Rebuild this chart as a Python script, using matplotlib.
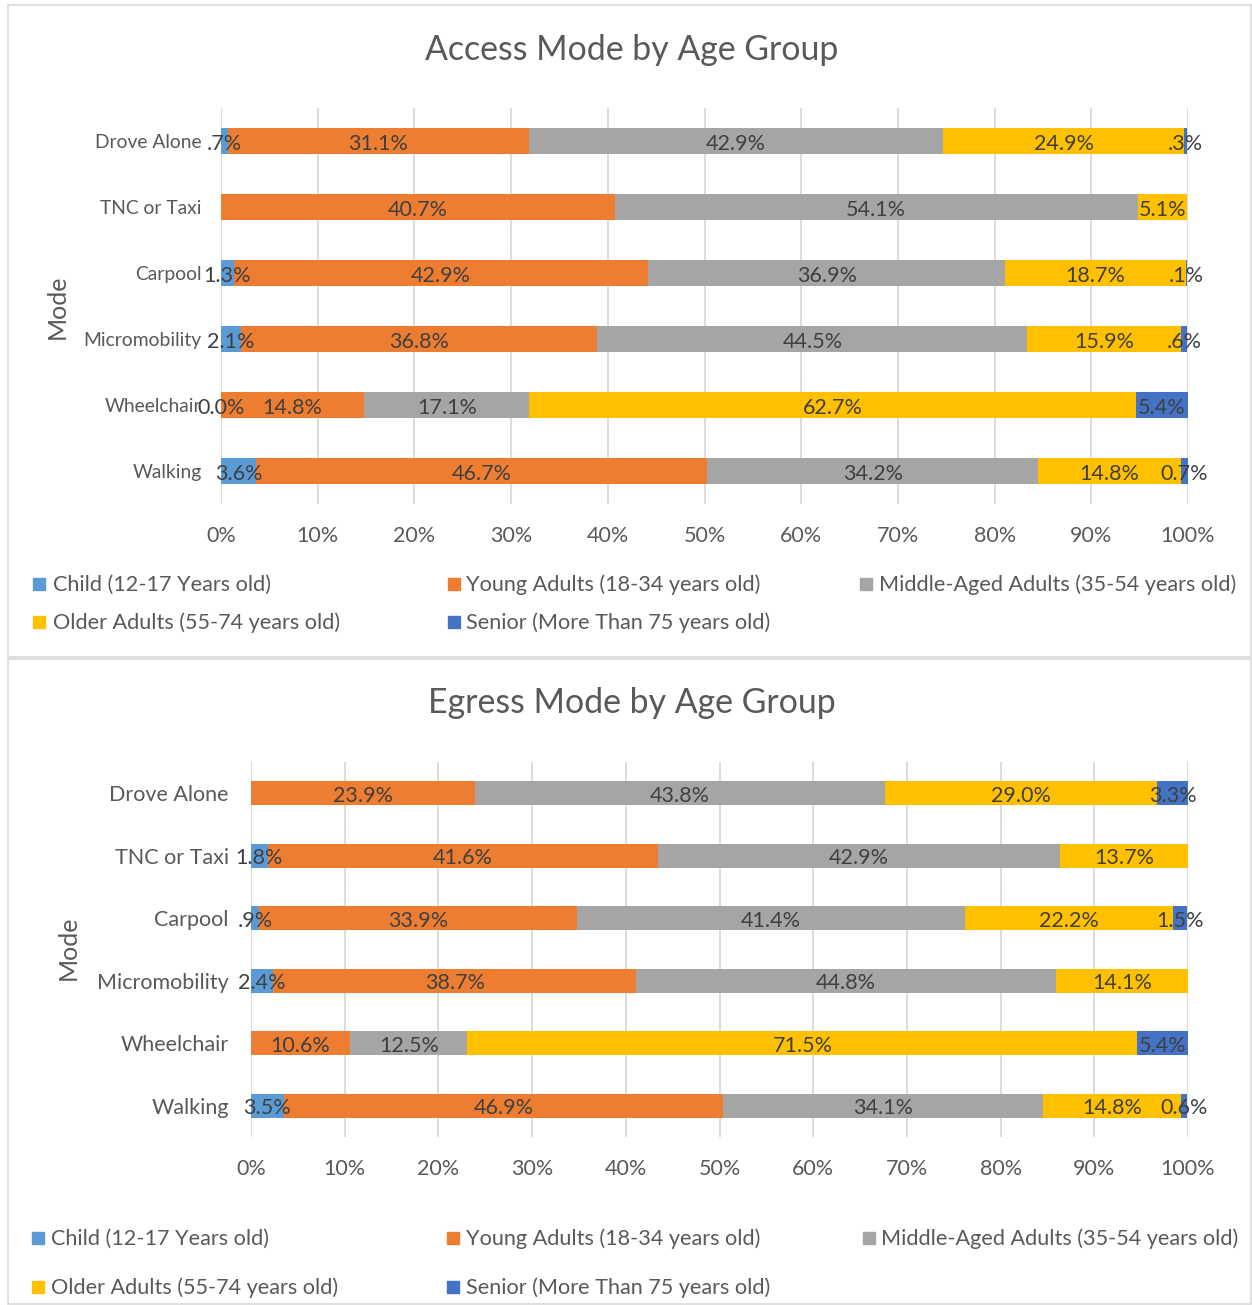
import matplotlib
matplotlib.use("Agg")
import matplotlib.pyplot as plt
from matplotlib.patches import Rectangle
import numpy as np

plt.rcParams['font.family'] = ['Lato', 'DejaVu Sans']

modes = ["Drove Alone", "TNC or Taxi", "Carpool", "Micromobility", "Wheelchair", "Walking"]
series = ["Child (12-17 Years old)", "Young Adults (18-34 years old)",
          "Middle-Aged Adults (35-54 years old)", "Older Adults (55-74 years old)",
          "Senior (More Than 75 years old)"]
colors = ["#5B9BD5", "#ED7D31", "#A5A5A5", "#FFC000", "#4472C4"]

# Access values per series (order of modes)
acc_child  = [0.7, 0.0, 1.3, 2.1, 0.0, 3.6]
acc_young  = [31.1, 40.7, 42.9, 36.8, 14.8, 46.7]
acc_middle = [42.9, 54.1, 36.9, 44.5, 17.1, 34.2]
acc_older  = [24.9, 5.1, 18.7, 15.9, 62.7, 14.8]
acc_senior = [0.3, 0.0, 0.1, 0.6, 5.4, 0.7]
acc_child_lbl  = [".7%", "", "1.3%", "2.1%", "0.0%", "3.6%"]
acc_senior_lbl = [".3%", "", ".1%", ".6%", "5.4%", "0.7%"]

# Egress values per series
egr_child  = [0.0, 1.8, 0.9, 2.4, 0.0, 3.5]
egr_young  = [23.9, 41.6, 33.9, 38.7, 10.6, 46.9]
egr_middle = [43.8, 42.9, 41.4, 44.8, 12.5, 34.1]
egr_older  = [29.0, 13.7, 22.2, 14.1, 71.5, 14.8]
egr_senior = [3.3, 0.0, 1.5, 0.0, 5.4, 0.6]
egr_child_lbl  = ["", "1.8%", ".9%", "2.4%", "", "3.5%"]
egr_senior_lbl = ["3.3%", "", "1.5%", "", "5.4%", "0.6%"]

W, H = 1252, 1305
fig = plt.figure(figsize=(W / 100, H / 100), dpi=100)

def fx(x): return x / W
def fy(y): return 1 - y / H

# panel borders
for (x0, y0, x1, y1) in [(8, 5, 1251, 657), (8, 659, 1251, 1304)]:
    fig.patches.append(Rectangle((fx(x0), fy(y1)), fx(x1 - x0), (y1 - y0) / H,
                                 transform=fig.transFigure, fill=False,
                                 edgecolor="#D9D9D9", lw=1.2))

def fmt(v):
    return f"{v:.1f}%"

def draw(ax_box, vals, child_lbl, senior_lbl, title, title_y, ylab_xy, cat_fs, pad,
         legend_rows, legend_cols, tick_fs):
    x0, y0, x1, y1 = ax_box
    ax = fig.add_axes([fx(x0), fy(y1), fx(x1 - x0), (y1 - y0) / H])
    y = np.arange(len(modes))
    left = np.zeros(len(modes))
    for si, v in enumerate(vals):
        v = np.array(v)
        ax.barh(y, v, left=left, height=0.39, color=colors[si], zorder=3)
        for i in range(len(modes)):
            if si == 0:
                lbl = child_lbl[i]
            elif si == 4:
                lbl = senior_lbl[i]
            else:
                lbl = fmt(v[i])
            if lbl:
                ax.text(left[i] + v[i] / 2, y[i] + 0.04, lbl, ha="center", va="center",
                        fontsize=15.5, color="#404040", zorder=5)
        left = left + v
    ax.set_xlim(0, 100)
    ax.set_ylim(len(modes) - 0.5, -0.5)
    ax.set_xticks(np.arange(0, 101, 10))
    ax.set_xticklabels([f"{t}%" for t in range(0, 101, 10)], fontsize=tick_fs, color="#595959")
    ax.set_yticks(y)
    ax.set_yticklabels(modes, fontsize=cat_fs, color="#595959")
    ax.tick_params(axis="both", length=0)
    ax.tick_params(axis="y", pad=pad)
    ax.tick_params(axis="x", pad=16)
    ax.grid(axis="x", color="#D9D9D9", lw=1.3, zorder=0)
    for s in ax.spines.values():
        s.set_visible(False)
    fig.text(fx(632), fy(title_y), title, ha="center", va="center", fontsize=24.4, color="#595959")
    fig.text(fx(ylab_xy[0]), fy(ylab_xy[1]), "Mode", ha="center", va="center",
             rotation=90, fontsize=18, color="#595959")
    # legend
    positions = [(0, 0), (0, 1), (0, 2), (1, 0), (1, 1)]
    for si, (r, c) in enumerate(positions):
        mx, tx = legend_cols[c]
        ly = legend_rows[r]
        fig.patches.append(Rectangle((fx(mx), fy(ly + 6)), fx(12), 12 / H,
                                     transform=fig.transFigure, color=colors[si]))
        fig.text(fx(tx), fy(ly + 1), series[si], ha="left", va="center", fontsize=15.6, color="#595959")

draw((221, 108, 1188, 504),
     [acc_child, acc_young, acc_middle, acc_older, acc_senior],
     acc_child_lbl, acc_senior_lbl, "Access Mode by Age Group", 50, (57, 307),
     13.9, 14, [584, 622], [(33, 53), (448, 466), (860, 879)], 15.5)

draw((251, 762, 1188, 1137),
     [egr_child, egr_young, egr_middle, egr_older, egr_senior],
     egr_child_lbl, egr_senior_lbl, "Egress Mode by Age Group", 703, (68, 948),
     15.5, 16, [1238, 1287], [(32, 51), (447, 466), (863, 881)], 15.5)

fig.savefig("out.png", dpi=100, facecolor="white")
